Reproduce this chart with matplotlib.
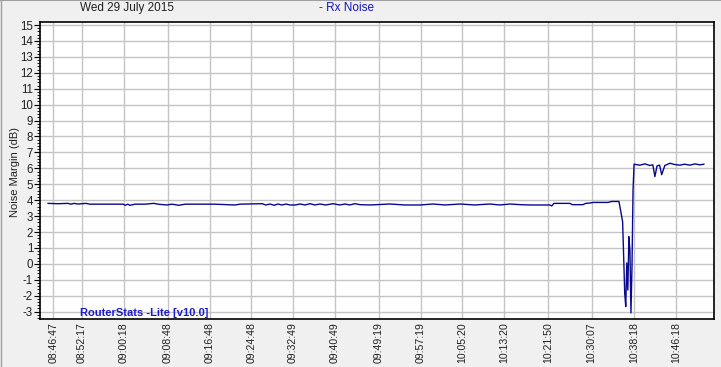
import matplotlib
matplotlib.use("Agg")
import matplotlib.pyplot as plt
from matplotlib.ticker import MultipleLocator
from matplotlib.lines import Line2D

plt.rcParams['font.family'] = ['Liberation Sans', 'DejaVu Sans']
plt.rcParams['axes.unicode_minus'] = False

# Datos: minutos desde 08:46:47 y margen de ruido (dB)
START = "08:46:47"
t_min = [-1.0, 0.9, 2.8, 3.4, 4.0, 4.7, 6.3, 7.0, 9.0, 10.9, 13.4, 13.8, 14.3, 14.7,
         15.7, 17.6, 19.3, 20.1, 21.8, 22.8, 24.1, 25.3, 28.2, 31.0, 34.9, 35.8,
         40.1, 40.8, 41.6, 42.4, 43.1, 43.9, 44.7, 45.4, 46.4, 47.4, 48.3, 49.3,
         50.2, 51.2, 52.3, 53.7, 55.0, 56.0, 56.9, 57.9, 58.9, 60.8, 64.6, 67.5,
         70.4, 72.9, 75.2, 78.1, 80.9, 83.8, 85.7, 87.7, 89.6, 91.5, 93.4, 95.3,
         95.7, 96.1, 99.2, 99.6, 101.7, 102.2, 103.0, 103.6, 106.5, 107.2, 108.6,
         109.0, 109.3, 109.5, 109.7, 109.9, 110.1, 110.3, 110.5, 110.7, 110.9,
         111.1, 111.3, 111.5, 112.6, 113.6, 114.5, 115.1, 115.5, 115.9, 116.4,
         116.8, 117.4, 118.4, 119.3, 120.3, 121.2, 122.2, 123.2, 124.1, 124.9]
rx_noise = [3.80, 3.78, 3.80, 3.75, 3.80, 3.76, 3.80, 3.75, 3.75, 3.75, 3.75, 3.68, 3.75, 3.68,
            3.75, 3.75, 3.80, 3.75, 3.70, 3.75, 3.68, 3.75, 3.75, 3.75, 3.70, 3.75,
            3.78, 3.70, 3.76, 3.68, 3.76, 3.70, 3.76, 3.70, 3.70, 3.76, 3.70, 3.78,
            3.70, 3.76, 3.70, 3.78, 3.70, 3.76, 3.70, 3.78, 3.72, 3.70, 3.76, 3.70,
            3.70, 3.76, 3.70, 3.76, 3.70, 3.76, 3.70, 3.76, 3.72, 3.70, 3.70, 3.70,
            3.64, 3.80, 3.80, 3.72, 3.72, 3.80, 3.82, 3.86, 3.86, 3.92, 3.92,
            3.20, 2.65, 0.45, -1.82, -2.68, 0.06, -1.64, 1.71, 0.88, -3.08,
            -0.17, 4.64, 6.26, 6.20, 6.28, 6.18, 6.22, 5.48, 6.15, 6.20,
            5.60, 6.18, 6.32, 6.24, 6.20, 6.26, 6.20, 6.28, 6.22, 6.26]

tick_labels = ["08:46:47", "08:52:17", "09:00:18", "09:08:48", "09:16:48", "09:24:48",
               "09:32:49", "09:40:49", "09:49:19", "09:57:19", "10:05:20", "10:13:20",
               "10:21:50", "10:30:07", "10:38:18", "10:46:18"]


def to_min(s):
    h, m, sec = map(int, s.split(":"))
    return h * 60 + m + sec / 60.0


t0 = to_min(START)
tick_pos = [to_min(s) - t0 for s in tick_labels]

fig = plt.figure(figsize=(7.21, 3.67), dpi=100, facecolor='#f0f0f0')
ax = fig.add_axes([0.0555, 0.1308, 0.9352, 0.8084])
ax.set_facecolor('white')

ax.plot(t_min, rx_noise, color='#08088c', linewidth=1.0)

ax.set_xlim(-2.55, 126.9)
ax.set_ylim(-3.46, 15.17)
ax.set_yticks(range(-3, 16))
ax.yaxis.set_minor_locator(MultipleLocator(0.2))
ax.set_xticks(tick_pos)
ax.set_xticklabels(tick_labels, rotation=90, fontsize=7.6, color='#202020')
ax.tick_params(axis='y', which='major', length=4, width=0.8, labelsize=8.3,
               pad=1, labelcolor='#202020')
ax.tick_params(axis='y', which='minor', length=2, width=0.6)
ax.tick_params(axis='x', length=0, pad=2.5)
ax.grid(True, which='major', color='#c4c4c4', linewidth=1.0)
ax.set_axisbelow(True)
for sp in ax.spines.values():
    sp.set_color('black')
    sp.set_linewidth(1.2)

ax.set_ylabel('Noise Margin (dB)', fontsize=8, color='#202020')
ax.yaxis.set_label_coords(-0.029, 0.495)

fig.text(0.111, 0.978, 'Wed 29 July 2015', fontsize=8.5, color='#202020',
         ha='left', va='center')
fig.text(0.443, 0.978, '- Rx Noise', fontsize=8.5, color='#1414c8',
         ha='left', va='center')
ax.text(0.059, 0.009, 'RouterStats -Lite [v10.0]', transform=ax.transAxes,
        fontsize=8, fontweight='bold', color='#1a1ad2', ha='left', va='baseline')

# borde de la ventana
fig.add_artist(Line2D([0, 1], [0.999, 0.999], color='#a0a0a0', linewidth=1.5,
                      transform=fig.transFigure))
fig.add_artist(Line2D([0.001, 0.001], [0, 1], color='#a0a0a0', linewidth=1.0,
                      transform=fig.transFigure))

fig.savefig('out.png', dpi=100, facecolor=fig.get_facecolor())
plt.close(fig)
